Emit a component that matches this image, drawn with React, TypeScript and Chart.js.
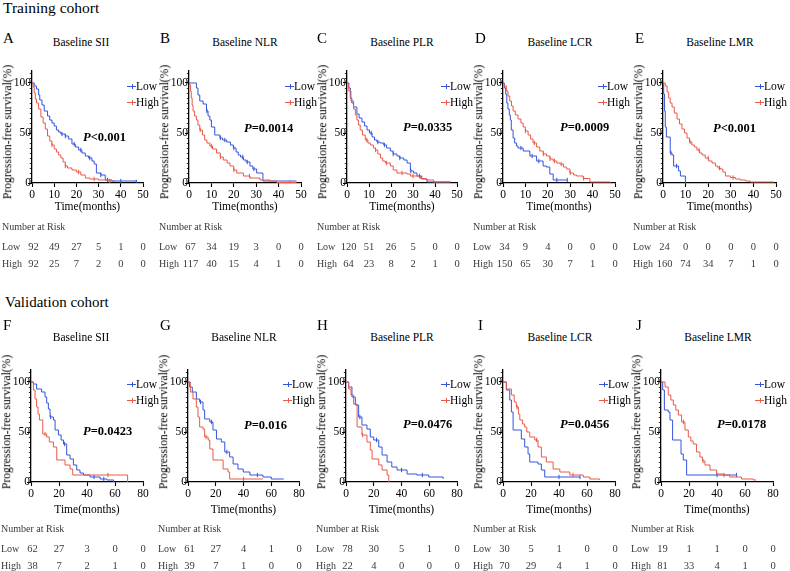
import React, { useEffect, useRef } from 'react';
import { Chart, registerables } from 'chart.js';
Chart.register(...registerables);

const FONT = '"Liberation Serif", "DejaVu Serif", "Times New Roman", serif';
const BLUE = '#3554dc';
const RED = '#e85a4a';
const YMAX = 112;

// ---- axis ticks ----
const trainTicks = [0, 10, 20, 30, 40, 50];
const validTicks = [0, 20, 40, 60, 80];
const yTicks = [0, 50, 100];

// ---- Training cohort curves (time in months, survival %) ----
const aLowT = [0, 1, 2, 3, 3.5, 4.5, 5.5, 7, 8, 9, 10, 11, 12, 13, 15, 16.5, 18, 19.5, 21, 22.5, 24, 25.5, 27, 28, 29, 31, 33, 36, 47];
const aLowS = [100, 97, 94, 88, 83, 78, 72, 67, 63, 60, 57, 53, 51, 49, 47, 44, 39, 36, 33, 30, 27, 25, 22, 19, 10, 8, 3, 2, 1];
const aLowC = [13.5, 15, 19, 22, 26, 31, 34, 40, 47];
const aHighT = [0, 0.5, 1, 1.5, 2, 3, 4, 5, 6, 7, 8, 9, 10, 11, 12, 13, 14, 15, 16, 18, 20, 22, 24, 26, 30, 34, 37];
const aHighS = [100, 96, 90, 84, 80, 74, 66, 60, 54, 47, 42, 38, 34, 31, 28, 25, 21, 17, 15, 13, 11, 8, 5, 4, 3, 2, 1];
const aHighC = [9, 15, 21, 28, 35];

const bLowT = [0, 2.5, 3.3, 4, 4.8, 6.3, 7.8, 8.5, 9.3, 10, 11.5, 13.8, 15, 16.8, 18.5, 19.8, 21, 22, 23, 24.3, 25.5, 27.2, 28.5, 30.2, 33, 48];
const bLowS = [100, 100, 95, 88, 82, 79, 72, 67, 63, 56, 48, 45, 43, 41, 38, 35, 31, 28, 26, 23, 21, 17, 14, 10, 2, 2];
const bLowC = [8, 14, 16, 20, 24, 26, 29];
const bHighT = [0, 0.3, 0.7, 1, 1.4, 1.8, 2.5, 3.3, 4, 4.8, 6, 7, 8, 9.3, 10.5, 12.3, 14, 15.3, 17, 18.3, 20, 21.3, 24.3, 27.2, 31.7, 36.2, 39.2, 48];
const bHighS = [100, 98, 92, 85, 78, 72, 67, 63, 58, 53, 48, 43, 40, 37, 34, 30, 26, 23, 20, 17, 13, 10, 7, 5, 3, 2, 0.5, 0.5];
const bHighC = [5, 10, 14, 20, 27, 45];

const cLowT = [0, 0.8, 1.5, 2.2, 3, 4.5, 5.5, 6.8, 8, 9.1, 10.2, 11.4, 12.5, 13.6, 15, 16.7, 18, 19.7, 21, 22.7, 24, 25.8, 27.3, 28.8, 30.3, 31.8, 34, 36.4, 47];
const cLowS = [100, 95, 85, 80, 76, 69, 65, 61, 57, 53, 50, 46, 43, 41, 40, 38, 35, 32, 29, 27, 25, 23, 20, 12, 10, 7, 4, 1, 1];
const cLowC = [11, 14, 17, 21, 24, 29, 33];
const cHighT = [0, 0.8, 1.8, 3, 3.8, 4.5, 5.2, 6, 7, 8.3, 9.5, 10.6, 12, 12.9, 14, 15.2, 16.2, 17.4, 19.7, 21, 22.7, 27.3, 28.8, 33.3, 36, 39.4, 47];
const cHighS = [100, 92, 82, 74, 68, 63, 58, 53, 48, 43, 40, 38, 35, 33, 29, 25, 22, 20, 17, 13, 10, 9, 7, 4.5, 3, 1, 1];
const cHighC = [9, 13, 18, 25, 30];

const dLowT = [0, 0.6, 1.2, 1.7, 2.2, 2.8, 3.3, 3.7, 4.5, 5.2, 6, 6.7, 9, 12, 15, 17.9, 19.4, 20.9, 22.4, 28.7];
const dLowS = [100, 95, 89, 80, 74, 68, 63, 53, 45, 40, 37, 35, 32, 27, 22, 17, 16, 9, 3, 3];
const dLowC = [8, 13, 16, 24, 28.7];
const dHighT = [0, 0.5, 1.5, 2.2, 3, 3.8, 4.5, 5.5, 6.7, 8, 9, 10, 11.2, 12.3, 13.4, 15, 16.4, 18, 19.4, 21, 22.4, 24, 25.4, 27, 28.4, 29.9, 31.5, 32.8, 35.8, 38.8, 48];
const dHighS = [100, 97, 92, 87, 82, 77, 72, 68, 64, 60, 56, 52, 48, 44, 40, 36, 32, 29, 27, 24, 22, 20, 19, 16, 14, 10, 8, 7, 4.5, 1, 0.5];
const dHighC = [10, 14, 18, 21, 23, 26, 30, 36];

const eLowT = [0, 0.3, 0.7, 1, 1.5, 3, 3.2, 4, 4.7, 6.9, 7.7, 9.4, 9.9];
const eLowS = [100, 89, 72, 56, 46, 46, 30, 28, 17, 12, 7, 7, 0];
const eLowC = [3.5, 6];
const eHighT = [0, 1, 1.8, 2.5, 3.2, 4, 5, 6.2, 7.3, 8.4, 9.5, 10.6, 11.7, 12.8, 13.9, 15, 16.2, 17.3, 18.7, 20.2, 21.7, 23.2, 24.3, 25.4, 26.5, 27.6, 29.8, 32, 34.2, 36.5, 38.6, 49];
const eHighS = [100, 97, 91, 85, 80, 76, 70, 64, 59, 54, 50, 45, 41, 38, 36, 33, 30, 28, 25, 22, 20, 17, 15, 14, 11, 7, 5.5, 4, 3, 2, 1, 0.5];
const eHighC = [12, 16, 20, 25, 31];

// ---- Validation cohort curves ----
const fLowT = [0, 1.7, 4, 7.6, 10, 11.2, 12.4, 13.6, 16, 17.2, 19.6, 21.5, 23.2, 25.5, 27.9, 30.3, 32.7, 35, 37.5, 42.2, 49.4, 54.2, 59];
const fLowS = [100, 98, 93, 90, 85, 79, 73, 65, 62, 52, 47, 42, 38, 27, 23, 17, 12, 9, 7, 5, 3, 2, 0];
const fLowC = [14, 24, 45, 52];
const fHighT = [0, 1.7, 2.9, 4, 5, 6, 8.4, 11.2, 13.1, 16, 18.4, 24.3, 27.9, 29.8, 69, 69];
const fHighS = [100, 92, 83, 75, 68, 62, 48, 45, 40, 35, 22, 17, 13, 7, 7, 0];
const fHighC = [10, 55];

const gLowT = [0, 1.2, 3.1, 6, 8.4, 10.8, 12, 15.7, 18, 20.5, 24, 26.5, 30, 32.5, 36, 39.8, 44.6, 54, 60, 69];
const gLowS = [100, 95, 90, 83, 80, 72, 63, 60, 52, 43, 40, 30, 25, 18, 13, 10, 7, 5, 3, 3];
const gLowC = [9, 17, 28, 50];
const gHighT = [0, 1.7, 3.6, 6, 7.2, 8.4, 10.8, 12, 14.5, 15.7, 18, 22.9, 25.3, 28.9, 30, 54];
const gHighS = [100, 90, 83, 75, 65, 55, 53, 45, 42, 33, 22, 22, 13, 10, 3, 3];
const gHighC = [13, 40];

const hLowT = [0, 1.9, 4.3, 6.7, 9.1, 11.5, 15.1, 17.5, 20, 23.6, 26, 29.6, 33, 36.8, 44, 51, 59.6, 70];
const hLowS = [100, 95, 85, 77, 65, 57, 53, 45, 42, 35, 27, 20, 15, 12, 8, 7, 5, 3];
const hLowC = [10, 22, 40, 55];
const hHighT = [0, 1.9, 3.6, 5.5, 8, 11.5, 15.1, 17.5, 18.8, 23.6, 26, 29.6, 30.8];
const hHighS = [100, 93, 87, 78, 55, 47, 40, 32, 23, 17, 12, 7, 0];
const hHighC = [12];

const iLowT = [0, 2.4, 4.8, 6, 7.2, 12, 13.1, 15.5, 17.9, 19.1, 25, 27.4, 29.8, 55];
const iLowS = [100, 92, 82, 70, 52, 52, 43, 35, 28, 20, 18, 12, 5, 5];
const iLowC = [40, 55];
const iHighT = [0, 2.4, 6, 8, 9.5, 11, 12, 14, 15.5, 17, 19.1, 22.7, 25, 27.4, 31, 35.8, 40.6, 47.7, 57.3, 62, 69];
const iHighS = [100, 93, 87, 80, 75, 68, 62, 58, 55, 50, 45, 42, 35, 25, 20, 13, 10, 7, 5, 3, 2];
const iHighC = [10, 24, 50];

const jLowT = [0, 1.2, 2.4, 5.2, 6.4, 8.3, 13.5, 14.3, 15.9, 18.3, 54];
const jLowS = [100, 92, 72, 70, 62, 42, 42, 28, 22, 7, 7];
const jLowC = [40, 54];
const jHighT = [0, 2.9, 5.2, 7, 8.8, 10.6, 12.4, 14.7, 17.1, 19.5, 21.3, 23, 25.4, 27.8, 29.6, 31.4, 35, 39.7, 44.4, 49, 57.5, 66, 68];
const jHighS = [100, 95, 87, 82, 77, 72, 67, 60, 52, 45, 41, 38, 30, 25, 21, 17, 12, 8, 7, 5, 3, 2, 2];
const jHighC = [16, 30, 45];

// ---- Number at risk ----
const aRiskLow = [92, 49, 27, 5, 1, 0];
const aRiskHigh = [92, 25, 7, 2, 0, 0];
const bRiskLow = [67, 34, 19, 3, 0, 0];
const bRiskHigh = [117, 40, 15, 4, 1, 0];
const cRiskLow = [120, 51, 26, 5, 0, 0];
const cRiskHigh = [64, 23, 8, 2, 1, 0];
const dRiskLow = [34, 9, 4, 0, 0, 0];
const dRiskHigh = [150, 65, 30, 7, 1, 0];
const eRiskLow = [24, 0, 0, 0, 0, 0];
const eRiskHigh = [160, 74, 34, 7, 1, 0];
const fRiskLow = [62, 27, 3, 0, 0];
const fRiskHigh = [38, 7, 2, 1, 0];
const gRiskLow = [61, 27, 4, 1, 0];
const gRiskHigh = [39, 7, 1, 0, 0];
const hRiskLow = [78, 30, 5, 1, 0];
const hRiskHigh = [22, 4, 0, 0, 0];
const iRiskLow = [30, 5, 1, 0, 0];
const iRiskHigh = [70, 29, 4, 1, 0];
const jRiskLow = [19, 1, 1, 0, 0];
const jRiskHigh = [81, 33, 4, 1, 0];

const pLabels = ['<0.001', '=0.0014', '=0.0335', '=0.0009', '<0.001', '=0.0423', '=0.016', '=0.0476', '=0.0456', '=0.0178'];
const letters = ['A', 'B', 'C', 'D', 'E', 'F', 'G', 'H', 'I', 'J'];
const titles = ['Baseline SII', 'Baseline NLR', 'Baseline PLR', 'Baseline LCR', 'Baseline LMR', 'Baseline SII', 'Baseline NLR', 'Baseline PLR', 'Baseline LCR', 'Baseline LMR'];

type Curve = { t: number[]; s: number[]; c: number[] };
type Panel = {
  idx: number;
  x0: number; x1: number; y0: number; y100: number;
  xmax: number; xticks: number[];
  low: Curve; high: Curve;
  riskLow: number[]; riskHigh: number[];
  pX: number; pY: number; titleX: number; letterX: number;
  titleY: number; letterY: number; riskY: number[]; timeY: number; ylabY: number;
  legY: number[]; legX: number;
};

const trainGeo = [
  [32, 143], [189, 301], [347, 457], [503, 615], [663, 776],
];
const validGeo = [
  [31, 143], [188, 299], [346, 457], [503, 615], [661, 773],
];
const pPosTrain = [[83, 137], [244, 128], [403, 127], [560, 127], [713, 128]];
const pPosValid = [[83, 431], [244, 425], [403, 424], [560, 424], [717, 424]];
const titleXTrain = [81, 245, 402, 560, 720];
const titleXValid = [81, 244, 402, 560, 718];
const letterXTrain = [3, 160, 317, 475, 635];
const letterXValid = [3, 160, 317, 478, 636];
const legOffTrain = [16, 16, 16, 17, 21];
const legOffValid = [16, 16, 16, 16, 18];

const trainCurves: [Curve, Curve][] = [
  [{ t: aLowT, s: aLowS, c: aLowC }, { t: aHighT, s: aHighS, c: aHighC }],
  [{ t: bLowT, s: bLowS, c: bLowC }, { t: bHighT, s: bHighS, c: bHighC }],
  [{ t: cLowT, s: cLowS, c: cLowC }, { t: cHighT, s: cHighS, c: cHighC }],
  [{ t: dLowT, s: dLowS, c: dLowC }, { t: dHighT, s: dHighS, c: dHighC }],
  [{ t: eLowT, s: eLowS, c: eLowC }, { t: eHighT, s: eHighS, c: eHighC }],
];
const validCurves: [Curve, Curve][] = [
  [{ t: fLowT, s: fLowS, c: fLowC }, { t: fHighT, s: fHighS, c: fHighC }],
  [{ t: gLowT, s: gLowS, c: gLowC }, { t: gHighT, s: gHighS, c: gHighC }],
  [{ t: hLowT, s: hLowS, c: hLowC }, { t: hHighT, s: hHighS, c: hHighC }],
  [{ t: iLowT, s: iLowS, c: iLowC }, { t: iHighT, s: iHighS, c: iHighC }],
  [{ t: jLowT, s: jLowS, c: jLowC }, { t: jHighT, s: jHighS, c: jHighC }],
];
const trainRisk = [[aRiskLow, aRiskHigh], [bRiskLow, bRiskHigh], [cRiskLow, cRiskHigh], [dRiskLow, dRiskHigh], [eRiskLow, eRiskHigh]];
const validRisk = [[fRiskLow, fRiskHigh], [gRiskLow, gRiskHigh], [hRiskLow, hRiskHigh], [iRiskLow, iRiskHigh], [jRiskLow, jRiskHigh]];

const panels: Panel[] = [];
for (let i = 0; i < 5; i++) {
  panels.push({
    idx: i, x0: trainGeo[i][0], x1: trainGeo[i][1], y0: 183, y100: 83,
    xmax: 50, xticks: trainTicks, low: trainCurves[i][0], high: trainCurves[i][1],
    riskLow: trainRisk[i][0], riskHigh: trainRisk[i][1],
    pX: pPosTrain[i][0], pY: pPosTrain[i][1], titleX: titleXTrain[i], letterX: letterXTrain[i],
    titleY: 43, letterY: 38, riskY: [227, 247, 264], timeY: 207, ylabY: 132, legY: [86, 102],
    legX: trainGeo[i][1] - legOffTrain[i],
  });
}
for (let i = 0; i < 5; i++) {
  panels.push({
    idx: i + 5, x0: validGeo[i][0], x1: validGeo[i][1], y0: 482, y100: 382,
    xmax: 80, xticks: validTicks, low: validCurves[i][0], high: validCurves[i][1],
    riskLow: validRisk[i][0], riskHigh: validRisk[i][1],
    pX: pPosValid[i][0], pY: pPosValid[i][1], titleX: titleXValid[i], letterX: letterXValid[i],
    titleY: 338, letterY: 325, riskY: [529, 549, 566], timeY: 510, ylabY: 422, legY: [384, 400],
    legX: validGeo[i][1] - legOffValid[i],
  });
}

function stepAt(t: number[], s: number[], x: number) {
  let v = s[0];
  for (let i = 0; i < t.length; i++) if (t[i] <= x) v = s[i];
  return v;
}

const minorTicks = {
  id: 'minorTicks',
  afterDraw(chart: any) {
    const ys = chart.scales.y;
    const left = chart.chartArea.left;
    const ctx = chart.ctx;
    ctx.save();
    ctx.strokeStyle = '#000';
    ctx.lineWidth = 0.8;
    for (let v = 5; v <= 110; v += 5) {
      if (v % 50 === 0) continue;
      const py = Math.round(ys.getPixelForValue(v)) + 0.5;
      ctx.beginPath();
      ctx.moveTo(left - 2.2, py);
      ctx.lineTo(left, py);
      ctx.stroke();
    }
    ctx.restore();
  },
};

const PADL = 34, PADR = 14, PADT = 10, PADB = 26;

function curveSets(cv: Curve, color: string) {
  return [
    {
      data: cv.t.map((x, i) => ({ x, y: cv.s[i] })),
      borderColor: color, borderWidth: 1, stepped: 'before' as const,
      pointRadius: 0, fill: false, tension: 0,
    },
    {
      data: cv.c.map((x) => ({ x, y: stepAt(cv.t, cv.s, x) })),
      borderColor: color, backgroundColor: color, borderWidth: 1, showLine: false,
      pointStyle: 'line' as const, rotation: 90, pointRadius: 2.2,
    },
  ];
}

function KM({ p }: { p: Panel }) {
  const ref = useRef<HTMLCanvasElement>(null);
  const yTopPx = p.y0 - ((p.y0 - p.y100) * YMAX) / 100;
  const W = p.x1 - p.x0 + PADL + PADR;
  const H = p.y0 - yTopPx + PADT + PADB;
  useEffect(() => {
    const chart = new Chart(ref.current as HTMLCanvasElement, {
      type: 'line',
      data: { datasets: [...curveSets(p.high, RED), ...curveSets(p.low, BLUE)] as any },
      options: {
        animation: false,
        responsive: false,
        maintainAspectRatio: false,
        layout: { padding: { top: PADT, right: PADR, left: 0, bottom: 0 } },
        plugins: { legend: { display: false }, tooltip: { enabled: false } },
        scales: {
          x: {
            type: 'linear', min: 0, max: p.xmax,
            afterBuildTicks: (s: any) => { s.ticks = p.xticks.map((v) => ({ value: v })); },
            afterFit: (s: any) => { s.height = PADB; },
            grid: { drawOnChartArea: false, color: '#000', tickLength: 4, tickWidth: 1.1 },
            border: { color: '#000', width: 1.3 },
            ticks: { color: '#000', font: { family: FONT, size: 11.5 }, padding: 1.5, maxRotation: 0, autoSkip: false },
          },
          y: {
            type: 'linear', min: 0, max: YMAX,
            afterBuildTicks: (s: any) => { s.ticks = yTicks.map((v) => ({ value: v })); },
            afterFit: (s: any) => { s.width = PADL; },
            grid: { drawOnChartArea: false, color: '#000', tickLength: 4, tickWidth: 1.1 },
            border: { color: '#000', width: 1.3 },
            ticks: { color: '#000', font: { family: FONT, size: 11.5 }, padding: -3, autoSkip: false },
          },
        },
      },
      plugins: [minorTicks],
    });
    return () => chart.destroy();
  }, []);
  return (
    <canvas
      ref={ref}
      width={W}
      height={H}
      style={{ position: 'absolute', left: p.x0 - PADL, top: yTopPx - PADT, width: W, height: H }}
    />
  );
}

function Txt({ x, y, children, size = 11.5, anchor = 'left', weight = 400, color = '#000', style = {} }: any) {
  const tx = anchor === 'left' ? '0' : anchor === 'center' ? '-50%' : '-100%';
  return (
    <div
      style={{
        position: 'absolute', left: x, top: y, transform: `translate(${tx}, -50%)`,
        fontFamily: FONT, fontSize: size, lineHeight: 1, whiteSpace: 'nowrap',
        fontWeight: weight, color, ...style,
      }}
    >
      {children}
    </div>
  );
}

function LegendItem({ x, y, color, label }: any) {
  return (
    <>
      <div style={{ position: 'absolute', left: x, top: y, width: 9, height: 1.2, background: color }} />
      <div style={{ position: 'absolute', left: x + 5, top: y - 2, width: 1, height: 4.5, background: color }} />
      <Txt x={x + 9} y={y + 0.5} size={11.5}>{label}</Txt>
    </>
  );
}

function PanelView({ p }: { p: Panel }) {
  const px = (v: number) => p.x0 + ((p.x1 - p.x0) * v) / p.xmax;
  const cx = (p.x0 + p.x1) / 2;
  const RC = '#3a3a3a';
  return (
    <>
      <Txt x={p.letterX} y={p.letterY} size={15}>{letters[p.idx]}</Txt>
      <Txt x={p.titleX} y={p.titleY} anchor="center" size={11.5}>{titles[p.idx]}</Txt>
      <KM p={p} />
      <div
        style={{
          position: 'absolute', left: p.x0 - 24, top: p.ylabY,
          transform: 'translate(-50%, -50%) rotate(-90deg)',
          fontFamily: FONT, fontSize: 11.6, lineHeight: 1, whiteSpace: 'nowrap', color: '#000',
        }}
      >
        Progression-free survival(%)
      </div>
      <Txt x={cx} y={p.timeY} anchor="center" size={11.5}>Time(months)</Txt>
      <LegendItem x={p.legX} y={p.legY[0]} color={BLUE} label="Low" />
      <LegendItem x={p.legX} y={p.legY[1]} color={RED} label="High" />
      <Txt x={p.pX} y={p.pY} size={12.5} weight={700}>
        <i>P</i>{pLabels[p.idx]}
      </Txt>
      <Txt x={p.x0 - 30} y={p.riskY[0]} size={10} color={RC}>Number at Risk</Txt>
      <Txt x={p.x0 - 30} y={p.riskY[1]} size={10} color={RC}>Low</Txt>
      <Txt x={p.x0 - 30} y={p.riskY[2]} size={10} color={RC}>High</Txt>
      {p.riskLow.map((v, i) => (
        <Txt key={'l' + i} x={px(p.xticks[i]) + (i === 0 ? 1.5 : 0)} y={p.riskY[1]} anchor="center" size={10.5} color={RC}>{v}</Txt>
      ))}
      {p.riskHigh.map((v, i) => (
        <Txt key={'h' + i} x={px(p.xticks[i]) + (i === 0 ? 1.5 : 0)} y={p.riskY[2]} anchor="center" size={10.5} color={RC}>{v}</Txt>
      ))}
    </>
  );
}

export default function App() {
  return (
    <div style={{ position: 'absolute', left: 0, top: 0, width: 790, height: 571, background: '#fff', overflow: 'hidden' }}>
      <Txt x={3} y={8} size={15.5}>Training cohort</Txt>
      <Txt x={5} y={302} size={15}>Validation cohort</Txt>
      {panels.map((p) => (
        <PanelView key={p.idx} p={p} />
      ))}
    </div>
  );
}
